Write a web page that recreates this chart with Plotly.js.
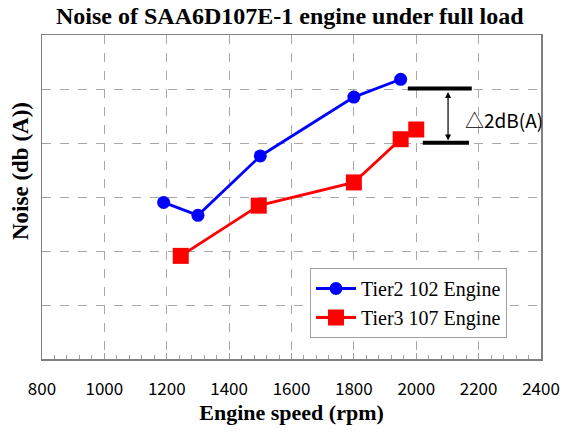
<!DOCTYPE html>
<html>
<head>
<meta charset="utf-8">
<script src="https://cdn.plot.ly/plotly-3.0.1.min.js"></script>
<style>html,body{margin:0;padding:0;background:#fff;}#chart{width:565px;height:432px;}</style>
</head>
<body>
<div id="chart"></div>
<script>
// Data (y in grid units; the chart has no y tick labels)
const tier2Speed = [1190, 1300, 1500, 1800, 1950];
const tier2Noise = [2.90, 2.66, 3.76, 4.85, 5.18];
const tier3Speed = [1245, 1495, 1800, 1950, 2000];
const tier3Noise = [1.91, 2.84, 3.27, 4.07, 4.25];
const seriesNames = ['Tier2 102 Engine', 'Tier3 107 Engine'];
const xTickVals = [800, 1000, 1200, 1400, 1600, 1800, 2000, 2200, 2400];
const xTickText = ['800', '1000', '1200', '1400', '1600', '1800', '2000', '2200', '2400'];

// difference marker (upper / lower level bars and arrow)
const diffUpper = 5.01, diffLower = 4.005;
const upperBarX = [1973, 2178], lowerBarX = [2021, 2169];
const arrowX = 2102;
const diffLabel = '△2dB(A)';

const serif = 'Liberation Serif, Times New Roman, serif';
const gothic = 'Noto Sans CJK JP, sans-serif';

const traces = [
  {x: tier2Speed, y: tier2Noise, name: seriesNames[0], type: 'scatter', mode: 'lines+markers',
   line: {color: '#0000ff', width: 2.8}, marker: {symbol: 'circle', size: 13, color: '#0000ff'}},
  {x: tier3Speed, y: tier3Noise, name: seriesNames[1], type: 'scatter', mode: 'lines+markers',
   line: {color: '#ff0000', width: 2.8}, marker: {symbol: 'square', size: 16, color: '#ff0000'}}
];

const layout = {
  width: 565, height: 432,
  margin: {l: 42, r: 24, t: 35, b: 73},
  paper_bgcolor: '#fff', plot_bgcolor: '#fff',
  title: {text: '<b>Noise of SAA6D107E-1 engine under full load</b>', font: {family: serif, size: 24, color: '#000'},
          x: 0.513, xanchor: 'center', y: 0.965, yanchor: 'middle'},
  showlegend: true,
  legend: {x: (310 - 42) / 499, y: (359 - 268) / 324, xanchor: 'left', yanchor: 'top',
           bgcolor: '#fff', bordercolor: '#a0a0a0', borderwidth: 1,
           font: {family: serif, size: 20, color: '#000'}, itemwidth: 40, tracegroupgap: 0},
  xaxis: {range: [800, 2400], tickvals: xTickVals, ticktext: xTickText,
          showgrid: true, gridcolor: '#a8a8a8', griddash: 'dash', gridwidth: 1,
          showline: true, linecolor: '#808080', linewidth: 1.5, mirror: true,
          ticks: 'inside', ticklen: 6, tickcolor: '#a0a0a0',
          minor: {dtick: 40, ticks: 'inside', ticklen: 4, tickcolor: '#a0a0a0', showgrid: false},
          ticklabelstandoff: 14,
          tickfont: {family: gothic, size: 17, color: '#000'}, zeroline: false,
          title: {text: '<b>Engine speed (rpm)</b>', font: {family: serif, size: 22, color: '#000'}, standoff: 5}},
  yaxis: {range: [0, 6], dtick: 1, showticklabels: false,
          showgrid: true, gridcolor: '#a8a8a8', griddash: 'dash', gridwidth: 1,
          showline: true, linecolor: '#808080', linewidth: 1.5, mirror: true,
          ticks: 'inside', ticklen: 6, tickcolor: '#a0a0a0', zeroline: false},
  shapes: [
    {type: 'line', xref: 'x', yref: 'y', x0: upperBarX[0], x1: upperBarX[1], y0: diffUpper, y1: diffUpper,
     line: {color: '#000', width: 4}},
    {type: 'line', xref: 'x', yref: 'y', x0: lowerBarX[0], x1: lowerBarX[1], y0: diffLower, y1: diffLower,
     line: {color: '#000', width: 4}}
  ],
  annotations: [
    {x: arrowX, y: diffLower + 0.04, ax: arrowX, ay: diffUpper - 0.04, xref: 'x', yref: 'y', axref: 'x', ayref: 'y',
     text: '', showarrow: true, arrowhead: 2, startarrowhead: 2, arrowside: 'end+start', arrowsize: 1,
     arrowwidth: 1.2, arrowcolor: '#000'},
    {x: 2150, y: 4.43, xref: 'x', yref: 'y', text: diffLabel, showarrow: false, xanchor: 'left', yanchor: 'middle',
     font: {family: gothic, size: 19, color: '#000'}},
    {x: -42 / 499 + 20 / 499, y: (359 - 171) / 324, xref: 'paper', yref: 'paper', text: '<b>Noise (db (A))</b>',
     textangle: -90, showarrow: false, xanchor: 'center', yanchor: 'middle',
     font: {family: serif, size: 23, color: '#000'}}
  ]
};

Plotly.newPlot('chart', traces, layout, {displayModeBar: false, staticPlot: true});
</script>
</body>
</html>
